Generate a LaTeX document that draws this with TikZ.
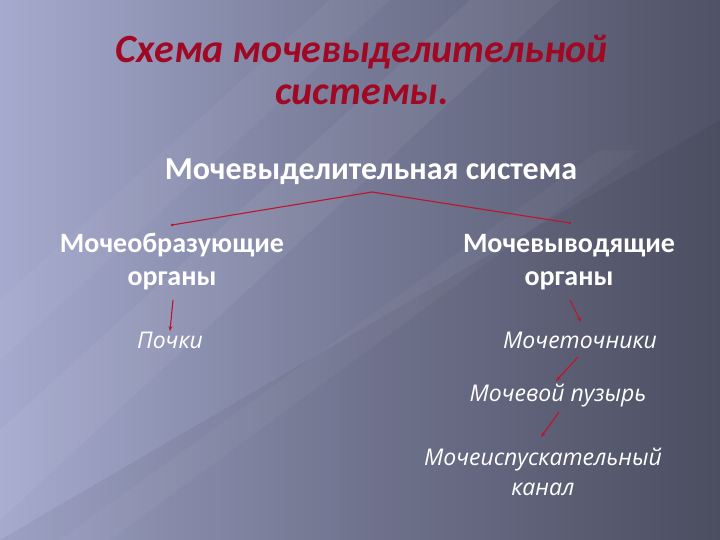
\documentclass[tikz,border=0pt]{standalone}
\usepackage{fontspec}
\setmainfont{Carlito}
\newfontfamily\handfont{Open Sans}
\usetikzlibrary{arrows.meta}
\definecolor{bgL}{RGB}{166,170,206}
\definecolor{bgM}{RGB}{118,122,150}
\definecolor{bgR}{RGB}{80,82,102}
\definecolor{titlered}{RGB}{160,8,36}
\definecolor{linered}{RGB}{190,20,45}
\tikzset{
  titletext/.style={font=\fontsize{40}{43}\selectfont\bfseries\itshape, text=titlered, align=center, inner sep=0pt},
  headtext/.style={font=\fontsize{32}{34}\selectfont\bfseries, text=white, inner sep=0pt},
  cattext/.style={font=\fontsize{28}{33}\selectfont\bfseries, text=white, align=center, inner sep=0pt},
  itemtext/.style={font=\handfont\fontsize{23}{30}\selectfont\itshape, text=white, align=center, inner sep=0pt},
  conn/.style={draw=linered, line width=1.1pt, -{Stealth[length=5pt,width=4pt]}},
  branch/.style={draw=linered, line width=1.1pt}
}
\begin{document}
\begin{tikzpicture}[x=1pt,y=-1pt]
\useasboundingbox (0,0) rectangle (720,540);
% background
\shade[left color=bgL, right color=bgR, middle color=bgM] (0,0) rectangle (720,540);
\fill[white, opacity=0.05] (0,430) -- (470,0) -- (560,0) -- (0,520) -- cycle;
\fill[white, opacity=0.04] (0,300) -- (330,0) -- (390,0) -- (0,360) -- cycle;
\fill[black, opacity=0.05] (0,540) -- (720,120) -- (720,540) -- cycle;
\fill[white, opacity=0.035] (60,540) -- (600,150) -- (640,150) -- (110,540) -- cycle;
% title
\node[titletext] (t1) at (362,52) {Схема мочевыделительной};
\node[titletext] (t2) at (362,95) {системы.};
% head
\node[headtext] (sys) at (371,172) {Мочевыделительная система};
\coordinate (apex) at (372,192);
\coordinate (lend) at (172,225);
\coordinate (rend) at (570,223);
\draw[branch] (lend) -- (apex) -- (rend);
\fill[linered] (lend) circle (1.5pt);
\fill[linered] (rend) circle (1.2pt);
% categories
\node[cattext] (form) at (172,262) {Мочеобразующие\\органы};
\node[cattext] (out) at (569,262) {Мочевыводящие\\органы};
% items
\node[itemtext] (pochki) at (170,340) {Почки};
\node[itemtext] (moch) at (580,340) {Мочеточники};
\node[itemtext] (puz) at (558,396) {Мочевой пузырь};
\node[itemtext] (kanal) at (543,472) {Мочеиспускательный\\канал};
% connectors
\coordinate (a1) at (173,300); \coordinate (b1) at (170,331);
\draw[conn] (a1) -- (b1);
\coordinate (a2) at (570,300); \coordinate (b2) at (581,322);
\draw[conn] (a2) -- (b2);
\coordinate (a3) at (578,357); \coordinate (b3) at (556,381);
\draw[conn] (a3) -- (b3);
\coordinate (a4) at (559,412); \coordinate (b4) at (541,437);
\draw[conn] (a4) -- (b4);
\end{tikzpicture}
\end{document}
